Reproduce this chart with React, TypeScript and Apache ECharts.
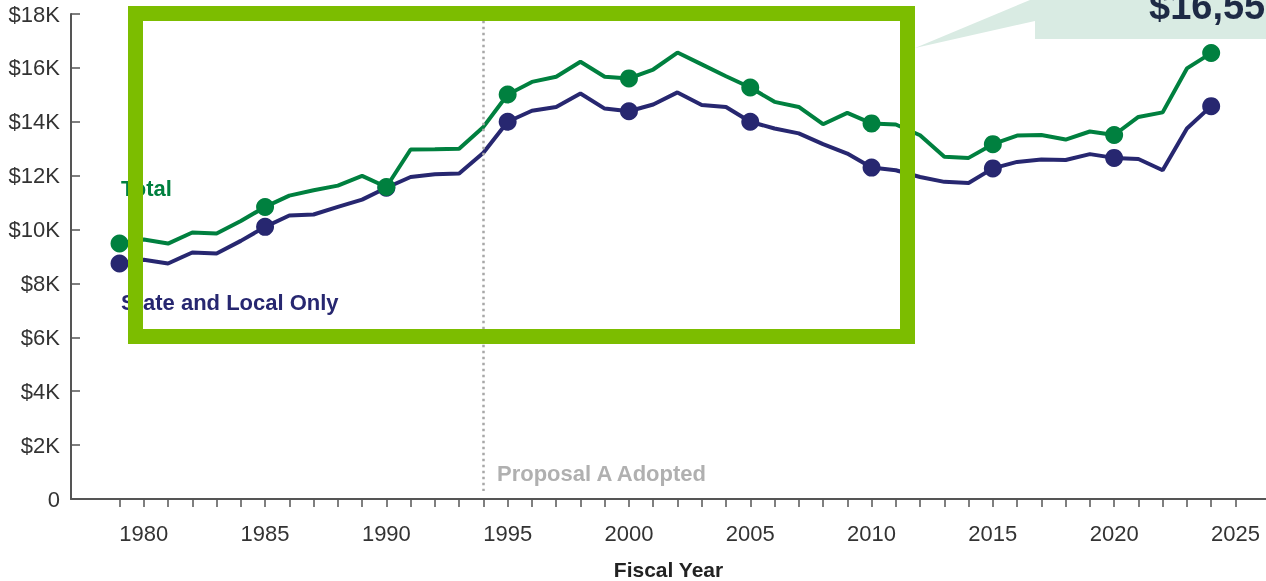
import React, { useEffect, useRef } from "react";
import * as echarts from "echarts";

const years: number[] = [];
for (let y = 1979; y <= 2024; y++) years.push(y);

const totalValues = [
  9480, 9630, 9480, 9890, 9850, 10320, 10840, 11260, 11460, 11630, 11990, 11580,
  12970, 12980, 13000, 13810, 15010, 15480, 15670, 16230, 15670, 15610,
  15940, 16570, 16130, 15690, 15270, 14740, 14550, 13910, 14330, 13940,
  13900, 13500, 12700, 12660, 13170, 13490, 13510, 13340, 13640, 13510,
  14180, 14350, 15980, 16550,
];

const stateLocalValues = [
  8740, 8880, 8740, 9150, 9110, 9580, 10100, 10520, 10560, 10840, 11110, 11550,
  11950, 12050, 12080, 12850, 14000, 14410, 14550, 15050, 14490, 14390,
  14640, 15090, 14620, 14550, 14000, 13750, 13570, 13170, 12820, 12300,
  12200, 11950, 11770, 11730, 12270, 12510, 12600, 12580, 12800, 12660,
  12620, 12200, 13750, 14580,
];

const markerYears = [1979, 1985, 1990, 1995, 2000, 2005, 2010, 2015, 2020, 2024];
const xTickYears: number[] = [];
for (let y = 1979; y <= 2025; y++) xTickYears.push(y);
const xLabelYears = [1980, 1985, 1990, 1995, 2000, 2005, 2010, 2015, 2020, 2025];

const proposalYear = 1994;
const calloutText = "$16,55";

const FONT = '"Liberation Sans", Arial, sans-serif';
const GREEN = "#00803f";
const NAVY = "#272770";

export default function App() {
  const ref = useRef<HTMLDivElement>(null);
  useEffect(() => {
    if (!ref.current) return;
    const chart = echarts.init(ref.current, null, { renderer: "svg" });
    const sym = (v: number[]) => (markerYears.includes(v[0]) ? 18 : 0);
    chart.setOption({
      animation: false,
      grid: { left: 71, right: 0, top: 14, bottom: 82, outerBoundsMode: "none", containLabel: false },
      xAxis: {
        type: "value",
        min: 1977,
        max: 2026.26,
        name: "Fiscal Year",
        nameLocation: "middle",
        nameGap: 60,
        nameTextStyle: { fontFamily: FONT, fontWeight: "bold", fontSize: 21, color: "#222" },
        axisLine: { show: true, lineStyle: { color: "#555", width: 2 } },
        axisTick: { show: true, length: 8, customValues: xTickYears, lineStyle: { color: "#555", width: 1.5 } },
        axisLabel: {
          customValues: xLabelYears,
          margin: 23,
          fontFamily: FONT,
          fontSize: 22,
          color: "#333",
          formatter: (v: number) => String(v),
        },
        splitLine: { show: false },
      },
      yAxis: {
        type: "value",
        min: 0,
        max: 18000,
        interval: 2000,
        axisLine: { show: true, lineStyle: { color: "#555", width: 2 } },
        axisTick: { show: true, inside: true, length: 9, lineStyle: { color: "#555", width: 1.5 } },
        axisLabel: {
          margin: 11,
          fontFamily: FONT,
          fontSize: 22,
          color: "#333",
          formatter: (v: number) => (v === 0 ? "0" : "$" + v / 1000 + "K"),
        },
        splitLine: { show: false },
      },
      series: [
        {
          name: "State and Local Only",
          type: "line",
          data: years.map((y, i) => [y, stateLocalValues[i]]),
          symbol: "circle",
          symbolSize: sym,
          showSymbol: true,
          lineStyle: { color: NAVY, width: 4 },
          itemStyle: { color: NAVY },
          markLine: {
            silent: true,
            symbol: "none",
            label: { show: false },
            lineStyle: { color: "#a8a8a8", width: 2.5, type: [2.5, 3.5] },
            data: [[{ coord: [proposalYear, 17750] }, { coord: [proposalYear, 300] }]],
          },
        },
        {
          name: "Total",
          type: "line",
          data: years.map((y, i) => [y, totalValues[i]]),
          symbol: "circle",
          symbolSize: sym,
          showSymbol: true,
          lineStyle: { color: GREEN, width: 4 },
          itemStyle: { color: GREEN },
        },
      ],
      graphic: [
        {
          type: "text",
          z: 5,
          x: 121,
          y: 188,
          style: { text: "Total", fontFamily: FONT, fontWeight: "bold", fontSize: 22, fill: GREEN, verticalAlign: "middle" },
        },
        {
          type: "text",
          z: 5,
          x: 121,
          y: 302,
          style: { text: "State and Local Only", fontFamily: FONT, fontWeight: "bold", fontSize: 22, fill: NAVY, verticalAlign: "middle" },
        },
        {
          type: "text",
          z: 5,
          x: 497,
          y: 473,
          style: { text: "Proposal A Adopted", fontFamily: FONT, fontWeight: "bold", fontSize: 22, fill: "#b0b0b0", verticalAlign: "middle" },
        },
        {
          type: "polygon",
          z: 40,
          shape: { points: [[1030, 0], [915, 48], [1035, 21], [1035, 0]] },
          style: { fill: "#d9ebe3" },
        },
        {
          type: "rect",
          z: 40,
          shape: { x: 1035, y: 0, width: 231, height: 39 },
          style: { fill: "#d9ebe3" },
        },
        {
          type: "text",
          z: 45,
          x: 1149,
          y: 6,
          style: { text: calloutText, fontFamily: FONT, fontWeight: "bold", fontSize: 38, fill: "#1e2a45", verticalAlign: "middle" },
        },
        {
          type: "rect",
          z: 50,
          shape: { x: 135.5, y: 13.5, width: 772, height: 323 },
          style: { fill: "none", stroke: "#7cbd00", lineWidth: 15 },
        },
      ],
    });
    return () => chart.dispose();
  }, []);
  return (
    <div
      ref={ref}
      style={{ position: "fixed", left: 0, top: 0, width: 1266, height: 581 }}
    />
  );
}
